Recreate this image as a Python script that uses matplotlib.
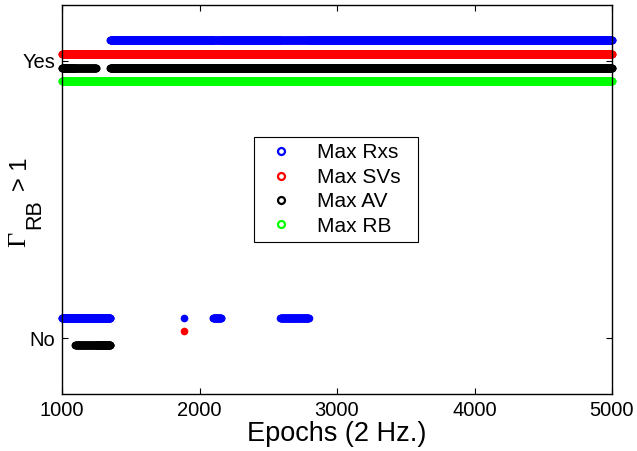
import matplotlib

matplotlib.use("Agg")
import matplotlib.pyplot as plt
import numpy as np
from matplotlib.lines import Line2D

plt.rcParams["font.family"] = ["Liberation Sans", "DejaVu Sans"]

# epochs sampled at 2 Hz
EPOCH_START = 1000
EPOCH_END = 5000

# epoch ranges where Gamma_RB <= 1 ("No")
rxs_no = [(1000, 1350), (1887, 1887), (2098, 2158), (2588, 2795)]
svs_no = [(1887, 1887)]
av_no = [(1095, 1350)]
rb_no = []

# ranges where the decision flickers Yes/No from one epoch to the next
rxs_flicker = [(2098, 2158), (2588, 2795)]
svs_flicker = []
av_flicker = [(1095, 1250)]
rb_flicker = []

labels = ["Max Rxs", "Max SVs", "Max AV", "Max RB"]
colors = ["#0000ff", "#ff0000", "#000000", "#00ff00"]
offsets = [0.075, 0.025, -0.025, -0.075]
ytick_labels = ["No", "Yes"]


def decisions(no_ranges, flicker_ranges):
    ep = np.arange(EPOCH_START, EPOCH_END + 1)
    yes = np.ones(ep.size, dtype=bool)
    for a, b in no_ranges:
        yes[(ep >= a) & (ep <= b)] = False
    for a, b in flicker_ranges:
        m = (ep >= a) & (ep <= b) & (ep % 2 == 1)
        yes[m] = True
    return ep, yes.astype(float)


series = [
    (rxs_no, rxs_flicker),
    (svs_no, svs_flicker),
    (av_no, av_flicker),
    (rb_no, rb_flicker),
]

fig = plt.figure(figsize=(6.37, 4.51), dpi=100)
ax = fig.add_axes([62 / 637, 57 / 451, 550 / 637, 389 / 451])

for (no_r, fl_r), c, off in zip(series, colors, offsets):
    ep, val = decisions(no_r, fl_r)
    ax.plot(
        ep,
        val + off,
        ls="none",
        marker="o",
        ms=4.5,
        mfc=c,
        mec=c,
        mew=1.0,
        clip_on=False,
    )

ax.set_xlim(1000, 5000)
ax.set_ylim(-0.2, 1.2)
ax.set_xticks([1000, 2000, 3000, 4000, 5000])
ax.set_yticks([0, 1])
ax.set_yticklabels(ytick_labels)
ax.tick_params(
    direction="in",
    length=4,
    width=0.8,
    top=True,
    right=True,
    labelsize=14.5,
    pad=5,
)
for sp in ax.spines.values():
    sp.set_linewidth(1.0)

ax.set_xlabel("Epochs (2 Hz.)", fontsize=19.5, labelpad=1)

# y label: Gamma with a big MATLAB-style subscript, placed piece by piece
W, H = 637, 451
fig.text(25 / W, 1 - 247 / H, "Γ", family="Liberation Serif", fontsize=19,
         rotation=90, rotation_mode="anchor", ha="left", va="baseline")
fig.text(40 / W, 1 - 229 / H, "RB", fontsize=15.5,
         rotation=90, rotation_mode="anchor", ha="left", va="baseline")
fig.text(27 / W, 1 - 191 / H, "> 1", fontsize=17,
         rotation=90, rotation_mode="anchor", ha="left", va="baseline")

handles = [
    Line2D([], [], ls="none", marker="o", ms=5, mfc="none", mec=c, mew=1.6)
    for c in colors
]
leg = ax.legend(
    handles,
    [s + "  " for s in labels],
    loc="center",
    bbox_to_anchor=((336 - 62) / 550, (394 - 189.5) / 389),
    fontsize=15,
    frameon=True,
    fancybox=False,
    edgecolor="black",
    framealpha=1,
    labelspacing=0.26,
    handlelength=2.0,
    handletextpad=0.75,
    borderpad=0.3,
    borderaxespad=0,
)
leg.get_frame().set_linewidth(0.8)

fig.savefig("out.png", dpi=100)
